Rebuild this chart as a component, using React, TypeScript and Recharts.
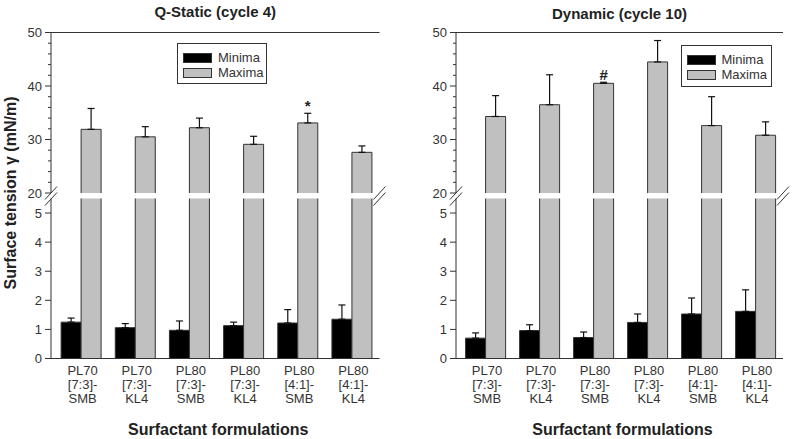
import React from 'react';
import { BarChart, Bar, XAxis, YAxis, ErrorBar, ReferenceLine, LabelList, Legend } from 'recharts';

const FONT = 'Arial, "Liberation Sans", Helvetica, sans-serif';
const INK = '#333333';

const categories = [
  'PL70\n[7:3]-\nSMB',
  'PL70\n[7:3]-\nKL4',
  'PL80\n[7:3]-\nSMB',
  'PL80\n[7:3]-\nKL4',
  'PL80\n[4:1]-\nSMB',
  'PL80\n[4:1]-\nKL4',
];

const staticMinima = [1.25, 1.06, 0.97, 1.13, 1.22, 1.35];
const staticMinimaSD = [0.14, 0.14, 0.32, 0.12, 0.46, 0.49];
const staticMaxima = [31.9, 30.5, 32.2, 29.1, 33.1, 27.6];
const staticMaximaSD = [3.9, 1.9, 1.8, 1.5, 1.8, 1.2];
const staticNotes = ['', '', '', '', '*', ''];

const dynamicMinima = [0.7, 0.96, 0.72, 1.24, 1.53, 1.62];
const dynamicMinimaSD = [0.18, 0.2, 0.19, 0.29, 0.55, 0.74];
const dynamicMaxima = [34.3, 36.5, 40.5, 44.5, 32.6, 30.8];
const dynamicMaximaSD = [3.9, 5.6, 0.2, 4.0, 5.4, 2.5];
const dynamicNotes = ['', '', '#', '', '', ''];

const upperTicks = [20, 22, 24, 26, 28, 30, 32, 34, 36, 38, 40, 42, 44, 46, 48, 50];
const upperMajorStep = 10;
const lowerTicks = [0, 1, 2, 3, 4, 5];
const upperDomain: [number, number] = [20, 50];
const lowerDomain: [number, number] = [0, 5.5];

const legendNames = ['Minima', 'Maxima'];
const seriesColors = ['#000000', '#c0c0c0'];

function buildRows(minima: number[], minSD: number[], maxima: number[], maxSD: number[], notes: string[]) {
  return categories.map((name, i) => ({
    name,
    min: minima[i],
    max: maxima[i],
    minErr: [0, minSD[i]],
    maxErr: [0, maxSD[i]],
    maxSD: maxSD[i],
    note: notes[i],
  }));
}

const staticRows = buildRows(staticMinima, staticMinimaSD, staticMaxima, staticMaximaSD, staticNotes);
const dynamicRows = buildRows(dynamicMinima, dynamicMinimaSD, dynamicMaxima, dynamicMaximaSD, dynamicNotes);

const UpperTick = (props: any) => {
  const { x, y, payload } = props;
  const major = payload.value % upperMajorStep === 0;
  const len = major ? 6 : 3;
  return (
    <g>
      <line x1={x} x2={x - len} y1={y} y2={y} stroke={INK} strokeWidth={1} />
      {major && (
        <text x={x - len - 3} y={y} dy="0.35em" textAnchor="end" fontSize={13} fontFamily={FONT} fill={INK}>
          {payload.value}
        </text>
      )}
    </g>
  );
};

const LowerTick = (props: any) => {
  const { x, y, payload } = props;
  return (
    <g>
      <line x1={x} x2={x - 6} y1={y} y2={y} stroke={INK} strokeWidth={1} />
      <text x={x - 9} y={y} dy="0.35em" textAnchor="end" fontSize={13} fontFamily={FONT} fill={INK}>
        {payload.value}
      </text>
    </g>
  );
};

const CategoryTick = (props: any) => {
  const { x, y, payload } = props;
  const lines = String(payload.value).split('\n');
  return (
    <text x={x + 1} y={y} textAnchor="middle" fontSize={13} fontFamily={FONT} fill={INK}>
      {lines.map((l, i) => (
        <tspan key={i} x={x + 1} dy={i === 0 ? 16 : 14.3}>
          {l}
        </tspan>
      ))}
    </text>
  );
};

const OpenBar = (props: any) => {
  const { x, y, width, height, fill, stroke, value } = props;
  const v = Array.isArray(value) ? value[1] : value;
  if (v < upperDomain[0] || !(height > 0)) return null;
  return (
    <g>
      <rect x={x} y={y} width={width} height={height} fill={fill} />
      <path d={`M${x},${y + height}V${y}H${x + width}V${y + height}`} fill="none" stroke={stroke} strokeWidth={1} />
    </g>
  );
};

const makeNote = (rows: any[]) => (props: any) => {
  const { x, y, width, height, value } = props;
  if (!value) return null;
  const row = rows.find((r) => r.note === value);
  if (!row) return null;
  const pxPerUnit = Math.abs(Number(height)) / (row.max - upperDomain[0]);
  const top = Number(y) - row.maxSD * pxPerUnit;
  return (
    <text x={Number(x) + Number(width) / 2} y={top - 2} textAnchor="middle" fontSize={15} fontWeight="bold" fontFamily={FONT} fill="#222">
      {value}
    </text>
  );
};

const LegendBox = ({ payload }: any) => {
  const items = [...(payload || [])].sort(
    (a: any, b: any) => legendNames.indexOf(a.value) - legendNames.indexOf(b.value)
  );
  return (
    <div
      style={{
        width: '100%',
        height: '100%',
        boxSizing: 'border-box',
        border: `1px solid ${INK}`,
        background: '#fff',
        position: 'relative',
        fontFamily: FONT,
        fontSize: 13,
        color: INK,
      }}
    >
      {items.map((p: any, i: number) => (
        <div key={i} style={{ position: 'absolute', left: 5, top: 8 + i * 15, height: 11, display: 'flex', alignItems: 'center' }}>
          <div style={{ width: 29, height: 10, boxSizing: 'border-box', background: p.color, border: `1px solid ${INK}` }} />
          <span style={{ marginLeft: 6, lineHeight: '11px' }}>{p.value}</span>
        </div>
      ))}
    </div>
  );
};

type PanelProps = {
  px: number;
  pw: number;
  axisX: number;
  plotRight: number;
  padLeft: number;
  title: string;
  titleY: number;
  rows: any[];
  legend: { x: number; y: number; w: number; h: number };
};

const Panel = ({ px, pw, axisX, plotRight, padLeft, title, titleY, rows, legend }: PanelProps) => {
  const yAxisW = axisX - px;
  const rightM = px + pw - plotRight;
  const center = (axisX + plotRight) / 2;
  const upperH = 200;
  const lowerTop = 190;
  const lowerH = 249;
  return (
    <>
      <div
        style={{
          position: 'absolute',
          left: center,
          top: titleY,
          transform: 'translate(-50%, -50%)',
          fontFamily: FONT,
          fontWeight: 'bold',
          fontSize: 15,
          color: '#222',
          whiteSpace: 'nowrap',
        }}
      >
        {title}
      </div>
      <div style={{ position: 'absolute', left: px, top: 0 }}>
        <BarChart
          width={pw}
          height={upperH}
          data={rows}
          margin={{ top: 32.5, right: rightM, bottom: 7, left: 0 }}
          barCategoryGap={6.6}
          barGap={0}
        >
          <XAxis dataKey="name" hide padding={{ left: padLeft, right: 0 }} />
          <YAxis
            type="number"
            domain={upperDomain}
            allowDataOverflow
            ticks={upperTicks}
            interval={0}
            width={yAxisW}
            tickSize={0}
            tickMargin={0}
            tickLine={false}
            axisLine={{ stroke: INK }}
            tick={<UpperTick />}
          />
          <YAxis yAxisId="frame" orientation="right" type="number" width={0} domain={[0, 1]} tick={false} tickLine={false} axisLine={{ stroke: INK }} />
          <ReferenceLine y={upperDomain[1]} stroke={INK} />
          <Bar dataKey="min" name={legendNames[0]} fill={seriesColors[0]} stroke={INK} shape={<OpenBar />} isAnimationActive={false} />
          <Bar dataKey="max" name={legendNames[1]} fill={seriesColors[1]} stroke={INK} shape={<OpenBar />} isAnimationActive={false}>
            <ErrorBar dataKey="maxErr" width={3.5} stroke="#111" strokeWidth={1.2} direction="y" />
            <LabelList dataKey="note" content={makeNote(rows)} />
          </Bar>
          <Legend
            layout="vertical"
            verticalAlign="middle"
            align="center"
            wrapperStyle={{ left: legend.x - px, top: legend.y, width: legend.w, height: legend.h }}
            content={(p: any) => <LegendBox payload={p.payload} />}
          />
        </BarChart>
      </div>
      <div style={{ position: 'absolute', left: px, top: lowerTop }}>
        <BarChart
          width={pw}
          height={lowerH}
          data={rows}
          margin={{ top: 8.5, right: rightM, bottom: 0, left: 0 }}
          barCategoryGap={6.6}
          barGap={0}
        >
          <XAxis
            dataKey="name"
            height={80.5}
            padding={{ left: padLeft, right: 0 }}
            tickSize={0}
            tickMargin={0}
            tickLine={false}
            axisLine={{ stroke: INK }}
            interval={0}
            tick={<CategoryTick />}
          />
          <YAxis
            type="number"
            domain={lowerDomain}
            allowDataOverflow
            ticks={lowerTicks}
            interval={0}
            width={yAxisW}
            tickSize={0}
            tickMargin={0}
            tickLine={false}
            axisLine={{ stroke: INK }}
            tick={<LowerTick />}
          />
          <YAxis yAxisId="frame" orientation="right" type="number" width={0} domain={[0, 1]} tick={false} tickLine={false} axisLine={{ stroke: INK }} />
          <Bar dataKey="min" name={legendNames[0]} fill={seriesColors[0]} stroke={INK} isAnimationActive={false}>
            <ErrorBar dataKey="minErr" width={3.5} stroke="#111" strokeWidth={1.2} direction="y" />
          </Bar>
          <Bar dataKey="max" name={legendNames[1]} fill={seriesColors[1]} stroke={INK} isAnimationActive={false} />
        </BarChart>
      </div>
      <div
        style={{
          position: 'absolute',
          left: center + 3,
          top: 430,
          transform: 'translate(-50%, -50%)',
          fontFamily: FONT,
          fontWeight: 'bold',
          fontSize: 16,
          color: '#222',
          whiteSpace: 'nowrap',
        }}
      >
        Surfactant formulations
      </div>
      <svg style={{ position: 'absolute', left: 0, top: 0, pointerEvents: 'none' }} width={793} height={439}>
        {[axisX, plotRight].map((bx, i) => (
          <g key={i} stroke={INK} strokeWidth={1}>
            <line x1={bx - 6} y1={199.5} x2={bx + 6} y2={186.5} />
            <line x1={bx - 6} y1={205.5} x2={bx + 6} y2={192.5} />
          </g>
        ))}
      </svg>
    </>
  );
};

export default function App() {
  return (
    <div style={{ position: 'absolute', left: 0, top: 0, width: 793, height: 439, background: '#fff', overflow: 'hidden' }}>
      <Panel
        px={0}
        pw={395}
        axisX={51}
        plotRight={379.5}
        padLeft={3.5}
        title="Q-Static (cycle 4)"
        titleY={10.5}
        rows={staticRows}
        legend={{ x: 177, y: 43, w: 90, h: 41 }}
      />
      <Panel
        px={395}
        pw={398}
        axisX={456}
        plotRight={783}
        padLeft={3}
        title="Dynamic (cycle 10)"
        titleY={12.5}
        rows={dynamicRows}
        legend={{ x: 680.5, y: 45, w: 91, h: 42 }}
      />
      <div
        style={{
          position: 'absolute',
          left: 11,
          top: 193,
          transform: 'translate(-50%, -50%) rotate(-90deg)',
          fontFamily: FONT,
          fontWeight: 'bold',
          fontSize: 16,
          color: '#222',
          whiteSpace: 'nowrap',
        }}
      >
        Surface tension γ (mN/m)
      </div>
    </div>
  );
}
